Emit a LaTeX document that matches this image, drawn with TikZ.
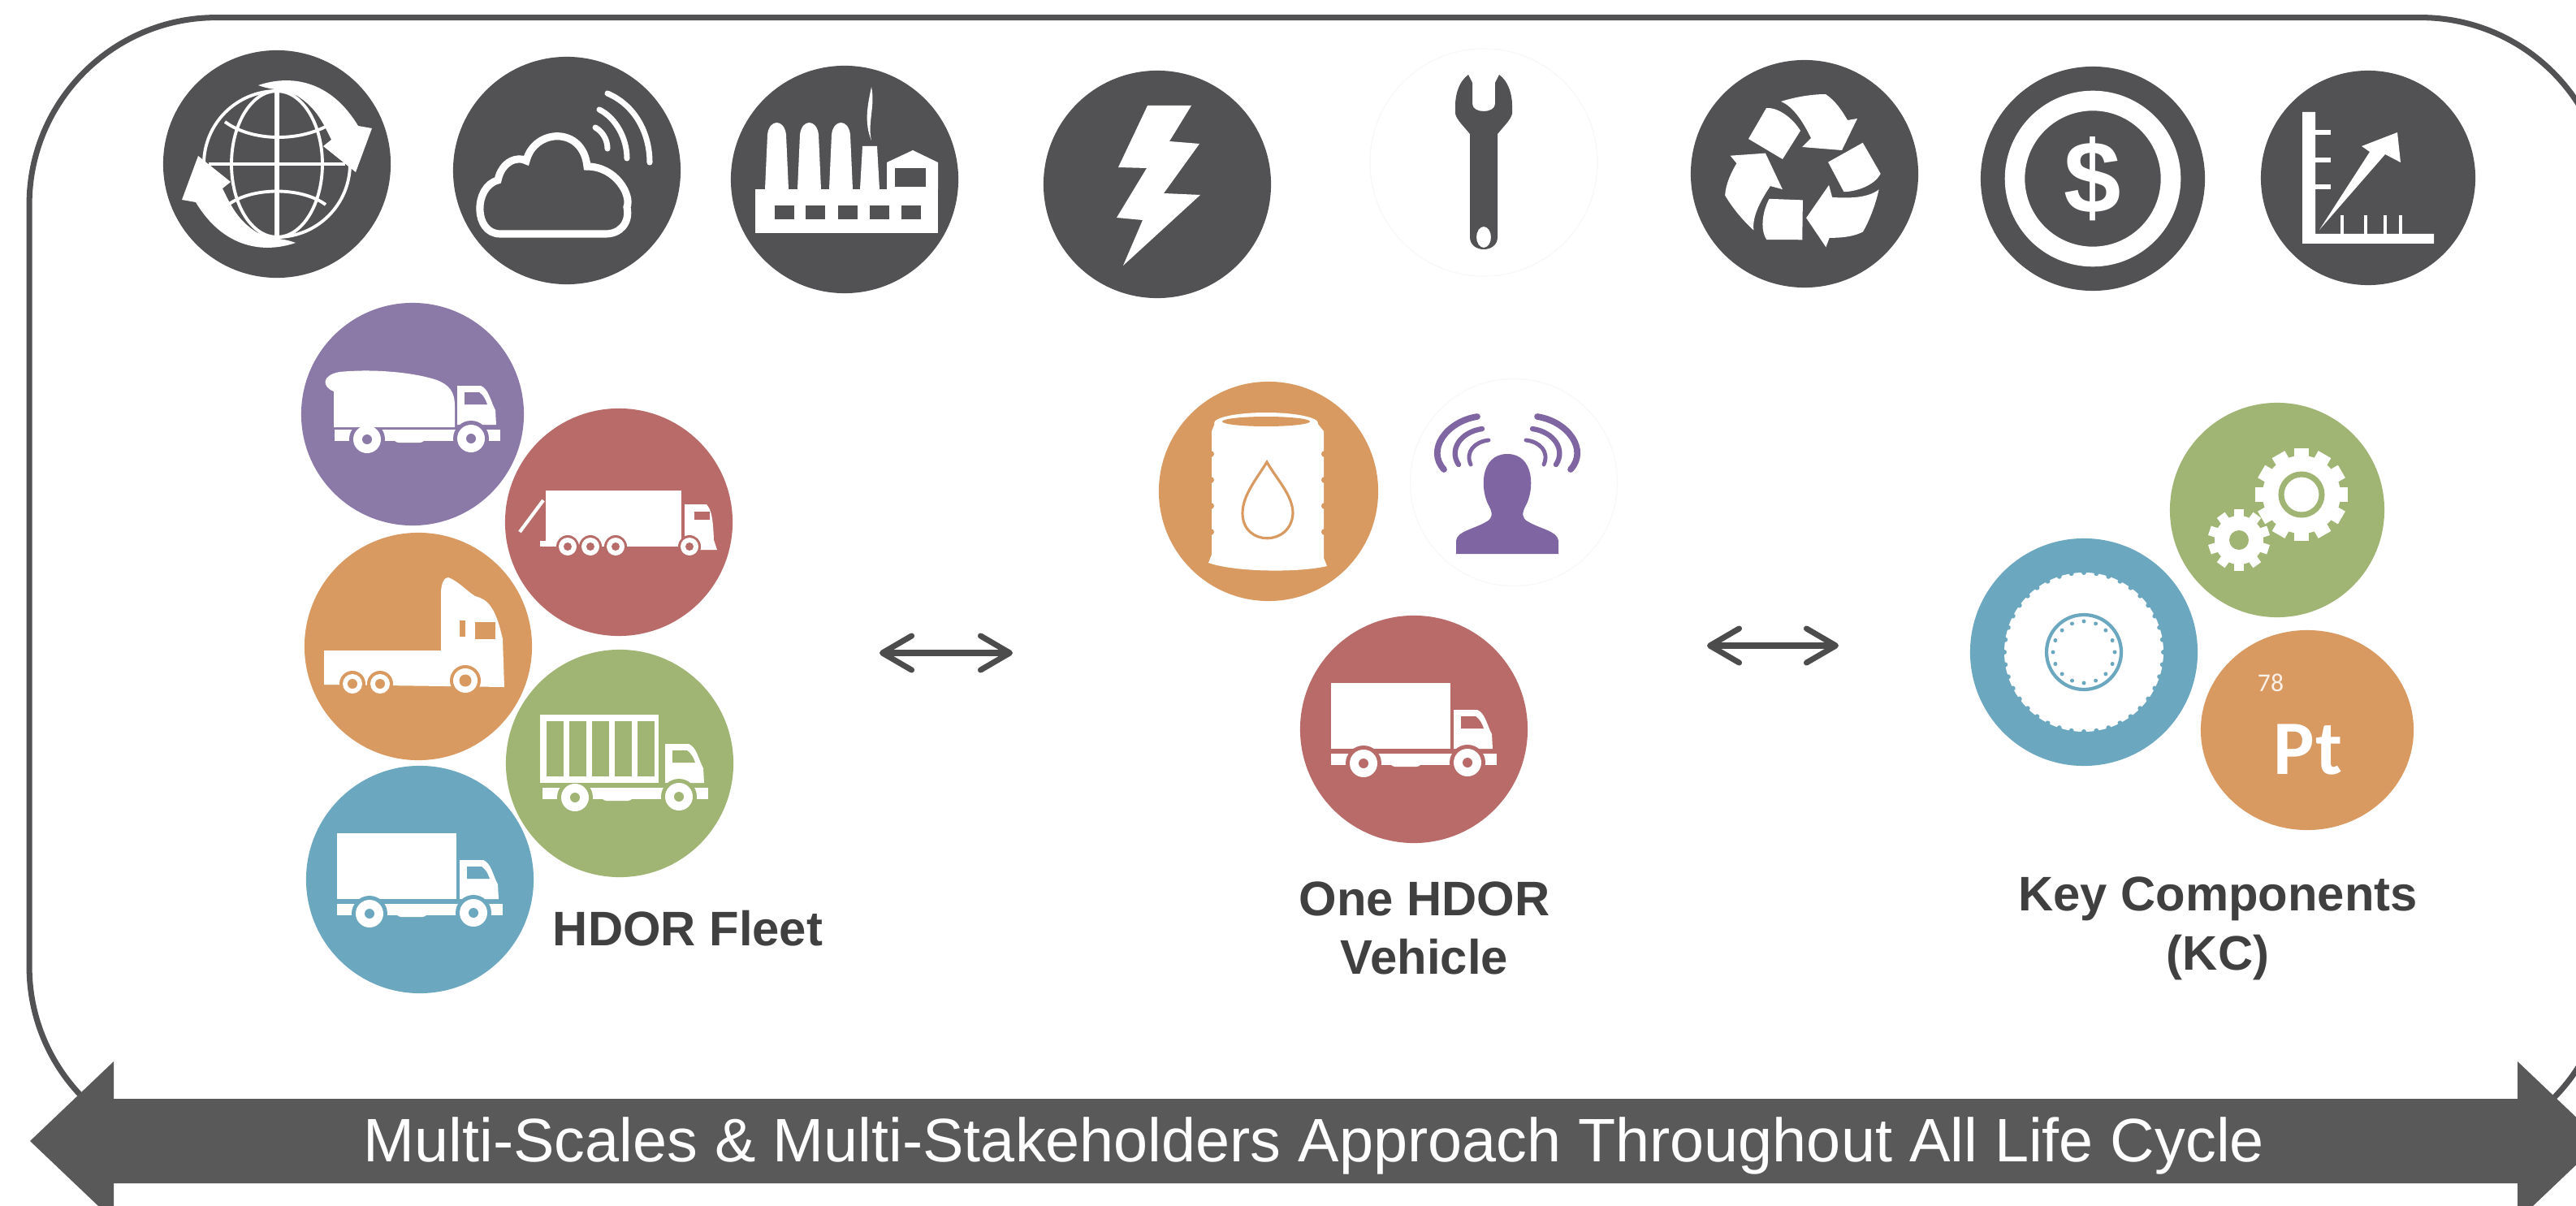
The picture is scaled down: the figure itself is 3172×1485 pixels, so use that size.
\documentclass[tikz,border=0pt]{standalone}
\usepackage{fontspec}
\setmainfont{Liberation Sans}
\newfontfamily\elementfont{Carlito}
\usetikzlibrary{shapes, shapes.geometric, arrows.meta, calc}
\definecolor{sombre}{HTML}{525254}
\definecolor{bande}{HTML}{595959}
\definecolor{violet}{HTML}{8B79A8}
\definecolor{rouge}{HTML}{B86B68}
\definecolor{orange}{HTML}{D99A62}
\definecolor{vert}{HTML}{A0B573}
\definecolor{bleu}{HTML}{6BA8BF}
\definecolor{tete}{HTML}{7F66A3}
\definecolor{pale}{HTML}{F8F8F8}
\tikzstyle{rond} = [
    circle,
    minimum size = 2.8cm,
    inner sep = 0pt,
]
\tikzstyle{legende} = [
    align = center,
    text = black!75,
    font = \fontsize{17}{20.7}\selectfont\bfseries,
]
\tikzstyle{liaison} = [
    {Straight Barb[length = 3.6mm, width = 4.2mm, round]}-{Straight Barb[length = 3.6mm, width = 4.2mm, round]},
    line width = 2pt,
    draw = black!70,
]
\tikzset{
    cabine/.pic = {
        \fill[white] (49,24) -- (49,-24) -- (78,-24) .. controls (88,-20) and (90,-5) .. (96,6) -- (97,24) -- cycle;
        \fill[#1] (58,-16) -- (76,-16) .. controls (82,-12) and (84,-6) .. (86,-1) -- (58,-1) -- cycle;
        \fill[white] (-102,30) rectangle (102,44);
        \fill[#1] (-62,42) circle (22) (66,41) circle (22);
        \fill[white] (-62,42) circle (17) (66,41) circle (17);
        \fill[#1] (-62,42) circle (6) (66,41) circle (6);
        \fill[white, rounded corners = 2pt] (-30,30) rectangle (10,46);
    },
    camion/.pic = {
        \fill[white] (-102,-57) rectangle (45,24);
        \pic {cabine = #1};
    },
}

\begin{document}
\begin{tikzpicture}[x = 0.01cm, y = -0.01cm]
    \useasboundingbox (0,0) rectangle (3172,1485);
    \node (Frame) [rectangle, rounded corners = 2.3cm, draw = sombre, line width = 2pt, minimum width = 31.73cm, minimum height = 13.98cm, inner sep = 0pt] at (1623.5,721) {};

    % top row
    \node (Globe) [rond, fill = sombre] at (341,202) {};
    \node (Cloud) [rond, fill = sombre] at (698,210) {};
    \node (Factory) [rond, fill = sombre] at (1040,221) {};
    \node (Bolt) [rond, fill = sombre] at (1425,227) {};
    \node (Wrench) [rond, draw = pale] at (1827,200) {};
    \node (Recycle) [rond, fill = sombre] at (2222,214) {};
    \node (Dollar) [rond, fill = sombre, minimum size = 2.76cm] at (2577,220) {};
    \node (Chart) [rond, fill = sombre, minimum size = 2.64cm] at (2916,219) {};

    % globe
    \begin{scope}[shift = {(341,202)}, white, line width = 1.1pt]
        \draw (0,0) circle (90);
        \draw (0,0) ellipse (56 and 90);
        \draw[line width = 1.6pt] (0,-90) -- (0,90);
        \draw[line width = 1.4pt] (-84,0) -- (84,0);
        \draw (-64,-52) .. controls (-30,-27) and (30,-27) .. (67,-50);
        \draw (-60,50) .. controls (-30,28) and (30,28) .. (60,50);
        \foreach \a in {0,180} {
            \fill[rotate = \a] (-23,-97) .. controls (15,-110) and (65,-105) .. (100,-47) -- (117,-44) -- (97,10) -- (57,-22) -- (67,-30) .. controls (55,-55) and (45,-75) .. (14,-90) .. controls (0,-92) and (-10,-92) .. (-23,-97) -- cycle;
        }
    \end{scope}

    % cloud
    \begin{scope}[shift = {(698,210)}, white, line width = 2.6pt, line cap = round]
        \draw (-82,78) .. controls (-115,78) and (-115,20) .. (-85,12) .. controls (-80,-12) and (-60,-18) .. (-50,-12) .. controls (-40,-52) and (20,-55) .. (25,-5) .. controls (60,-5) and (80,30) .. (74,45) .. controls (78,65) and (65,78) .. (48,78) -- cycle;
        \draw[line width = 2pt] (50,-95) .. controls (85,-80) and (102,-45) .. (102,-10);
        \draw[line width = 2pt] (40,-75) .. controls (60,-65) and (74,-40) .. (74,-15);
        \draw[line width = 2pt] (35,-53) .. controls (44,-48) and (50,-38) .. (50,-27);
    \end{scope}

    % factory
    \begin{scope}[shift = {(1040,221)}]
        \fill[white] (-110,12) rectangle (115,66);
        \foreach \x in {-98,-58,-19} {
            \fill[white] (\x,12) -- (\x+3,-55) .. controls (\x+5,-75) and (\x+24,-75) .. (\x+26,-55) -- (\x+29,12) -- cycle;
        }
        \fill[white] (19,12) -- (22,-41) -- (40,-41) -- (43,12) -- cycle;
        \fill[white] (33,-114) .. controls (38,-90) and (28,-70) .. (33,-48) .. controls (24,-70) and (28,-90) .. (33,-114);
        \fill[white] (52,12) -- (52,-21) -- (84,-36) -- (115,-21) -- (115,12) -- cycle;
        \fill[sombre] (62,-14) rectangle (100,9);
        \foreach \x in {-86,-48,-8,31,70} {
            \fill[sombre] (\x,32) rectangle (\x+24,49);
        }
    \end{scope}

    % bolt
    \fill[white, shift = {(1425,227)}] (-12,-97) -- (42,-97) -- (15,-53) -- (52,-50) -- (8,11) -- (53,13) -- (-42,100) -- (-18,44) -- (-50,41) -- (-13,-20) -- (-48,-21) -- cycle;

    % wrench
    \fill[sombre, shift = {(1827,200)}, even odd rule] (-14,-98) -- (-19,-108) .. controls (-30,-100) and (-35,-85) .. (-35,-70) -- (-35,-60) .. controls (-33,-52) and (-25,-45) .. (-17,-35) -- (-17,92) .. controls (-17,112) and (17,112) .. (17,92) -- (17,-35) .. controls (25,-45) and (33,-52) .. (35,-60) -- (35,-70) .. controls (35,-85) and (30,-100) .. (19,-108) -- (14,-98) -- (14,-72) .. controls (14,-60) and (-14,-60) .. (-14,-72) -- cycle (0,92) ellipse (9 and 13);

    % recycling arrows
    \foreach \a in {0,120,240} {
        \begin{scope}[shift = {(2222,214)}, rotate = \a]
            \fill[white] (-69,-43) -- (-47,-81) .. controls (-30,-82) and (-12,-65) .. (-5,-53) -- (-27,-18) -- cycle;
            \fill[white] (-29,-89) .. controls (-10,-95) and (10,-98) .. (26,-98) .. controls (38,-90) and (46,-78) .. (53,-66) -- (65,-68) -- (46,-29) -- (-3,-33) -- (8,-44) .. controls (0,-60) and (-12,-82) .. (-29,-89) -- cycle;
        \end{scope}
    }

    % dollar
    \draw[white, line width = 7pt] (2577,220) circle (96);
    \node (DollarSign) [text = white, font = \fontsize{36}{36}\selectfont\bfseries] at (2577,220) {\$};

    % chart
    \begin{scope}[shift = {(2916,219)}]
        \fill[white] (-81,-81) -- (-65,-81) -- (-65,69) -- (81,69) -- (81,81) -- (-81,81) -- cycle;
        \foreach \y in {-56,-22,11} {
            \fill[white] (-65,\y-3) rectangle (-46,\y+3);
        }
        \foreach \x in {-32,-3,21,40} {
            \fill[white] (\x-2,46) rectangle (\x+2,69);
        }
        \fill[white] (-60,64) -- (2,-32) -- (-8,-39) -- (36,-56) -- (40,-19) -- (21,-29) -- cycle;
    \end{scope}

    % fleet
    \node (Mixer) [rond, fill = violet, minimum size = 2.74cm] at (508,510) {};
    \node (Trailer) [rond, fill = rouge] at (762,643) {};
    \node (Tractor) [rond, fill = orange] at (515,796) {};
    \node (Container) [rond, fill = vert] at (763,940) {};
    \node (Box) [rond, fill = bleu] at (517,1083) {};
    \node (Fleet) [legende] at (847,1143) {HDOR Fleet};

    \pic at (Box.center) {camion = bleu};

    \begin{scope}[shift = {(508,510)}]
        \pic[shift = {(6,-11)}] {cabine = violet};
        \fill[white] (-97,-28) .. controls (-112,-34) and (-112,-48) .. (-90,-52) .. controls (-50,-56) and (0,-52) .. (30,-42) .. controls (45,-36) and (52,-28) .. (52,-10) -- (52,16) -- (-97,16) -- cycle;
    \end{scope}

    \begin{scope}[shift = {(763,940)}]
        \pic[shift = {(7,0)}] {cabine = vert};
        \fill[white] (-98,-60) rectangle (48,24);
        \foreach \x in {-90,-62,-34,-6,22} {
            \fill[vert] (\x,-52) rectangle (\x+21,16);
        }
    \end{scope}

    \begin{scope}[shift = {(762,643)}]
        \fill[white] (-90,-39) rectangle (77,23);
        \draw[white, line width = 1.2pt] (-122,12) -- (-93,-27);
        \fill[white] (-97,23) rectangle (75,30);
        \fill[white] (81,34) -- (81,-22) -- (108,-22) .. controls (114,-15) and (116,-5) .. (117,22) -- (121,34) -- cycle;
        \fill[rouge] (93,-13) rectangle (112,-3);
        \foreach \x in {-63,-35,-4,87} {
            \fill[rouge] (\x,30) circle (14);
            \fill[white] (\x,30) circle (11);
            \fill[rouge] (\x,30) circle (5);
        }
    \end{scope}

    \begin{scope}[shift = {(515,796)}]
        \fill[white] (-116,5) -- (28,5) -- (28,-65) .. controls (28,-78) and (32,-85) .. (37,-85) .. controls (50,-80) and (60,-68) .. (70,-62) .. controls (85,-58) and (95,-50) .. (104,-9) -- (106,50) -- (-116,47) -- cycle;
        \fill[orange] (51,-32) rectangle (58,-12);
        \fill[orange] (70,-30) rectangle (95,-9);
        \foreach \x/\y/\r in {-81/46/12,-47/46/12,58/42/15} {
            \fill[orange] (\x,\y) circle (\r+4);
            \fill[white] (\x,\y) circle (\r);
            \fill[orange] (\x,\y) circle (\r/2);
        }
    \end{scope}

    % one vehicle
    \node (Barrel) [rond, fill = orange, minimum size = 2.7cm] at (1562,605) {};
    \node (Head) [rond, draw = pale, minimum size = 2.55cm] at (1864,594) {};
    \node (Truck) [rond, fill = rouge] at (1741,898) {};
    \node (Vehicle) [legende] at (1754,1143) {One HDOR\\Vehicle};

    \begin{scope}[shift = {(1562,605)}]
        \fill[white] (-3,-84) ellipse (64 and 13);
        \fill[white] (-70,-74) -- (-66,-84) -- (60,-84) -- (68,-74) -- (68,82) -- (72,92) .. controls (40,100) and (-40,100) .. (-74,88) -- (-70,78) -- cycle;
        \foreach \y in {-46,-14,18,50} {
            \fill[orange] (-71,\y) circle (4) (69,\y) circle (4);
        }
        \fill[orange] (-3,-86) ellipse (54 and 6);
        \draw[orange, line width = 0.9pt] (-2,-36) .. controls (-15,-15) and (-32,5) .. (-32,27) .. controls (-32,68) and (28,68) .. (30,27) .. controls (30,5) and (10,-15) .. (-2,-36) -- cycle;
    \end{scope}

    \begin{scope}[shift = {(1864,594)}]
        \fill[tete] (-71,88) -- (-71,72) .. controls (-70,60) and (-50,58) .. (-33,48) .. controls (-26,44) and (-26,38) .. (-30,30) .. controls (-42,10) and (-42,-35) .. (-8,-35) .. controls (26,-35) and (26,10) .. (14,30) .. controls (10,38) and (10,44) .. (17,48) .. controls (34,58) and (54,60) .. (55,72) -- (55,88) -- cycle;
        \foreach \s in {-1,1} {
            \draw[tete, line width = 2.2pt, line cap = round] ({-8+\s*37},-81) .. controls ({-8+\s*75},-75) and ({-8+\s*100},-40) .. ({-8+\s*78},-16);
            \draw[tete, line width = 1.8pt, line cap = round] ({-8+\s*31},-66) .. controls ({-8+\s*58},-62) and ({-8+\s*72},-40) .. ({-8+\s*60},-22);
            \draw[tete, line width = 1.4pt, line cap = round] ({-8+\s*23},-52) .. controls ({-8+\s*40},-50) and ({-8+\s*52},-38) .. ({-8+\s*45},-22);
        }
    \end{scope}

    \pic at (Truck.center) {camion = rouge};

    % key components
    \node (Gears) [rond, fill = vert, minimum size = 2.64cm] at (2804,628) {};
    \node (Tire) [rond, fill = bleu] at (2566,803) {};
    \node (Platinum) [ellipse, fill = orange, minimum width = 2.62cm, minimum height = 2.46cm, inner sep = 0pt] at (2841,899) {};
    \node (Number) [text = white!85!orange, font = \elementfont\fontsize{9}{9}\selectfont] at (2796,841) {78};
    \node (Symbol) [text = white, font = \elementfont\fontsize{27}{27}\selectfont\bfseries] at (2842,923) {Pt};
    \node (Components) [legende] at (2731,1143) {Key Components\\(KC)};

    \foreach \cx/\cy/\ri/\ro/\nb/\w in {30/-19/48/57/12/9, -47/37/30/38/10/6} {
        \begin{scope}[shift = {(2804,628)}, shift = {(\cx,\cy)}]
            \fill[white] (0,0) circle (\ri);
            \foreach \i in {1,...,\nb} {
                \fill[white, rotate = {\i*360/\nb}] (-\w,0) rectangle (\w,-\ro);
            }
        \end{scope}
    }
    \draw[vert, line width = 2pt] (2834,609) circle (25);
    \fill[vert] (2757,665) circle (12);

    \fill[white] (2566,803) circle (98);
    \foreach \a in {1,...,40} {
        \fill[bleu, rotate around = {\a*9:(2566,803)}] (2566,705) circle (3);
    }
    \draw[bleu, line width = 1.2pt] (2566,803) circle (46);
    \foreach \a in {1,...,16} {
        \fill[bleu, rotate around = {\a*22.5:(2566,803)}] (2566,765) circle (2.5);
    }

    % links
    \coordinate (FleetRight) at (1083,804);
    \coordinate (VehicleLeft) at (1247,804);
    \coordinate (VehicleRight) at (2102,795);
    \coordinate (ComponentsLeft) at (2264,795);
    \draw[liaison] (FleetRight) -- (VehicleLeft);
    \draw[liaison] (VehicleRight) -- (ComponentsLeft);

    % band
    \fill[bande] (37,1405) -- (140,1307) -- (140,1353) -- (3100,1353) -- (3100,1307) -- (3203,1405) -- (3100,1503) -- (3100,1457) -- (140,1457) -- (140,1503) -- cycle;
    \node (Approach) [text = white, font = \fontsize{21.5}{24}\selectfont] at (1618,1411) {Multi-Scales \& Multi-Stakeholders Approach Throughout All Life Cycle};
\end{tikzpicture}
\end{document}
